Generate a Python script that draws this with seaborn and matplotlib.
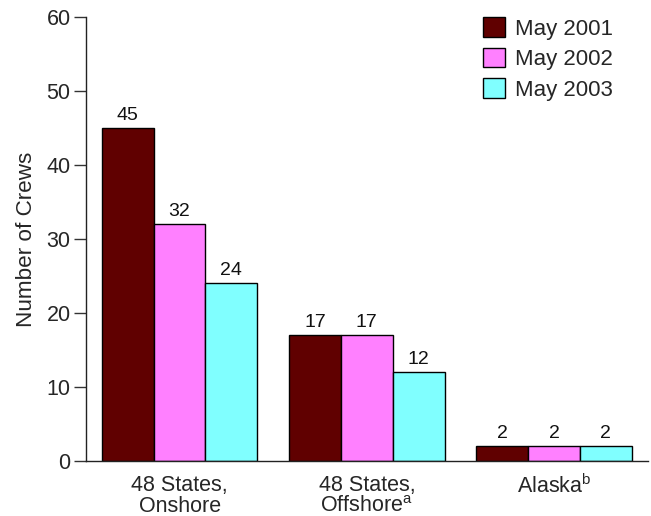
import matplotlib
matplotlib.use("Agg")
import matplotlib.pyplot as plt
import seaborn as sns
import pandas as pd

categories = ["48 States,\nOnshore", "48 States,\nOffshore$^{\\mathrm{a}}$", "Alaska$^{\\mathrm{b}}$"]
series = ["May 2001", "May 2002", "May 2003"]
may2001 = [45, 17, 2]
may2002 = [32, 17, 2]
may2003 = [24, 12, 2]
colors = ["#600000", "#FF80FF", "#80FFFF"]
yticks = [0, 10, 20, 30, 40, 50, 60]

rows = []
for s, vals in zip(series, [may2001, may2002, may2003]):
    for c, v in zip(categories, vals):
        rows.append({"Category": c, "Series": s, "Crews": v})
df = pd.DataFrame(rows)

sns.set_style("white")
plt.rcParams["font.family"] = ["Liberation Sans", "DejaVu Sans"]
plt.rcParams["mathtext.fontset"] = "custom"
plt.rcParams["mathtext.rm"] = "Liberation Sans"
plt.rcParams["mathtext.it"] = "Liberation Sans:italic"

fig = plt.figure(figsize=(6.51, 5.16), dpi=100)
ax = fig.add_axes([0.132, 0.1066, 0.863, 0.8604])

sns.barplot(data=df, x="Category", y="Crews", hue="Series", order=categories,
            hue_order=series, palette=colors, width=0.83, gap=0,
            edgecolor="black", linewidth=1, saturation=1, ax=ax, errorbar=None)

for cont in ax.containers:
    ax.bar_label(cont, fmt="%d", padding=3, fontsize=14, color="#111111")

ax.set_xlim(-0.5, 2.5)
ax.set_ylim(0, 60)
ax.set_yticks(yticks)
ax.set_yticklabels([str(t) for t in yticks], fontsize=15.5)
ax.tick_params(axis="y", direction="out", length=9, width=1, color="#333333", pad=2, left=True)
ax.tick_params(axis="x", length=0, labelsize=15.5, pad=10)
for lab in ax.get_xticklabels():
    lab.set_linespacing(1.0)
ax.set_xlabel("")
ax.set_ylabel("Number of Crews", fontsize=16.2, labelpad=7)
for sp in ["top", "right"]:
    ax.spines[sp].set_visible(False)
for sp in ["left", "bottom"]:
    ax.spines[sp].set_color("#222222")
    ax.spines[sp].set_linewidth(1)

leg = ax.legend(loc="upper left", bbox_to_anchor=(483 / 651, 1 - 17 / 516),
                bbox_transform=fig.transFigure, frameon=False, fontsize=16,
                borderpad=0, borderaxespad=0,
                handlelength=1.0, handleheight=1.0, handletextpad=0.45, labelspacing=0.36)

fig.savefig("out.png", dpi=100)
